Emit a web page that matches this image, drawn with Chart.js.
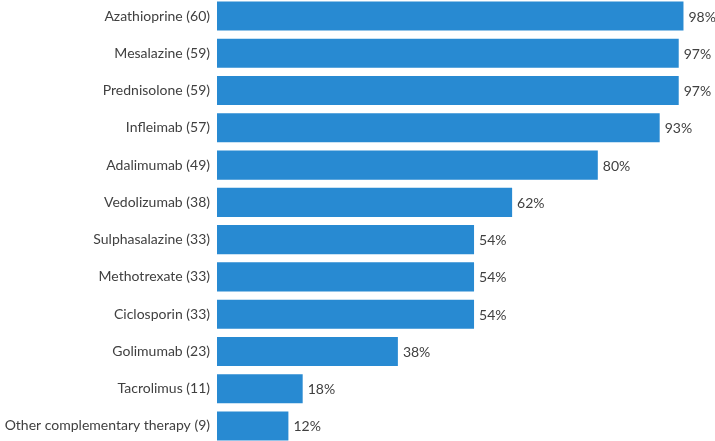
<!DOCTYPE html>
<html>
<head>
<meta charset="utf-8">
<script src="https://cdn.jsdelivr.net/npm/chart.js@4"></script>
<style>
  body { margin: 0; background: #fff; overflow: hidden; }
  .wrap { position: absolute; left: 0; top: -18px; width: 715px; height: 478px; }
</style>
</head>
<body>
<div class="wrap"><canvas id="myChart"></canvas></div>
<script>
// categories, bar lengths (% of patients) and the printed labels
const drugs = [
  "Azathioprine (60)", "Mesalazine (59)", "Prednisolone (59)", "Infleimab (57)",
  "Adalimumab (49)", "Vedolizumab (38)", "Sulphasalazine (33)", "Methotrexate (33)",
  "Ciclosporin (33)", "Golimumab (23)", "Tacrolimus (11)", "Other complementary therapy (9)"
];
const percents = [98, 97, 97, 93, 80, 62, 54, 54, 54, 38, 18, 15];
const pctLabels = ["98%", "97%", "97%", "93%", "80%", "62%", "54%", "54%", "54%", "38%", "18%", "12%"];

const textColor = "#404040";
const fontFamily = "Lato, 'Open Sans', sans-serif";

// draw value text at the end of each bar
const barLabels = {
  id: "barLabels",
  afterDatasetsDraw(chart) {
    const ctx = chart.ctx;
    const meta = chart.getDatasetMeta(0);
    ctx.save();
    ctx.font = "14px " + fontFamily;
    ctx.fillStyle = textColor;
    ctx.textAlign = "left";
    ctx.textBaseline = "middle";
    meta.data.forEach((bar, i) => {
      ctx.fillText(pctLabels[i], bar.x + 5, bar.y + 1);
    });
    ctx.restore();
  },
};

let myChart = document.getElementById("myChart").getContext("2d");

new Chart(myChart, {
  type: "bar",
  data: {
    labels: drugs,
    datasets: [
      {
        data: percents,
        backgroundColor: "#288ad2",
        borderWidth: 0,
        barPercentage: 1,
        categoryPercentage: 0.78,
      },
    ],
  },
  options: {
    indexAxis: "y",
    responsive: true,
    maintainAspectRatio: false,
    animation: false,
    layout: {
      padding: { left: 0, right: 22, top: 0, bottom: 0 },
    },
    plugins: {
      legend: { display: false },
      tooltip: { enabled: false },
    },
    scales: {
      x: {
        display: false,
        min: 0,
        max: 100,
      },
      y: {
        grid: { display: false, drawTicks: false },
        border: { display: false },
        ticks: {
          color: textColor,
          padding: 7,
          font: { family: fontFamily, size: 14 },
        },
        afterFit(scale) {
          scale.width = 217;
        },
      },
    },
  },
  plugins: [barLabels],
});
</script>
</body>
</html>
